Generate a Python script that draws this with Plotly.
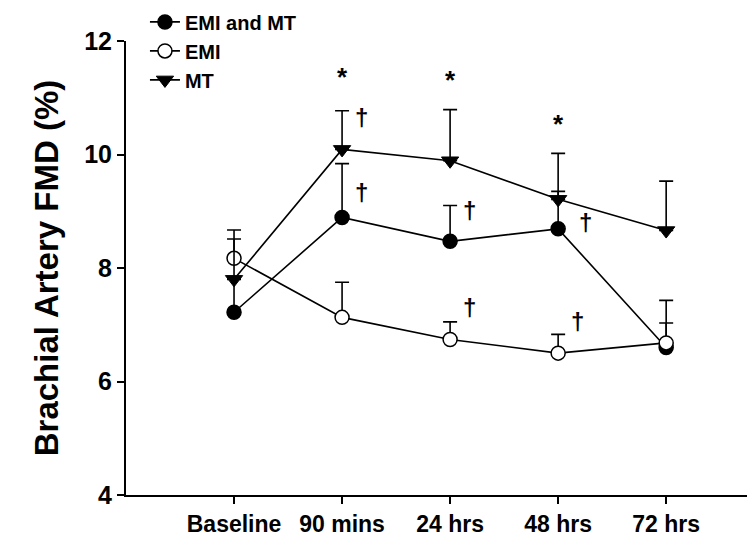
import plotly.graph_objects as go

# ---- data ----
time_labels = ["Baseline", "90 mins", "24 hrs", "48 hrs", "72 hrs"]
time_pos = [0, 1, 2, 3, 4]

emi_mt_mean = [7.22, 8.89, 8.47, 8.69, 6.60]
emi_mt_err = [0.60, 0.95, 0.63, 0.66, 0.43]

emi_mean = [8.17, 7.13, 6.74, 6.50, 6.68]
emi_err = [0.34, 0.62, 0.31, 0.33, 0.75]

mt_mean = [7.80, 10.09, 9.89, 9.21, 8.66]
mt_err = [0.87, 0.68, 0.90, 0.81, 0.87]

star_x = [1, 2, 3]
star_y = [11.47, 11.41, 10.65]

dagger_x = [1.18, 1.18, 2.18, 3.25, 2.18, 3.18]
dagger_y = [10.65, 9.33, 9.02, 8.80, 7.30, 7.06]

y_ticks = [4, 6, 8, 10, 12]

FONT = "Liberation Sans, Arial, sans-serif"

def err(vals):
    return dict(type="data", symmetric=False, array=vals,
                arrayminus=[0] * len(vals), color="black",
                thickness=1.6, width=7)

fig = go.Figure()
fig.add_trace(go.Scatter(
    x=time_pos, y=emi_mt_mean, name="EMI and MT", mode="lines+markers",
    line=dict(color="black", width=1.6),
    marker=dict(symbol="circle", size=14, color="black",
                line=dict(color="black", width=1.5)),
    error_y=err(emi_mt_err)))
fig.add_trace(go.Scatter(
    x=time_pos, y=emi_mean, name="EMI", mode="lines+markers",
    line=dict(color="black", width=1.6),
    marker=dict(symbol="circle", size=14, color="white",
                line=dict(color="black", width=1.5)),
    error_y=err(emi_err)))
fig.add_trace(go.Scatter(
    x=time_pos, y=mt_mean, name="MT", mode="lines+markers",
    line=dict(color="black", width=1.6),
    marker=dict(symbol="triangle-down", size=15, color="black",
                line=dict(color="black", width=1)),
    error_y=err(mt_err)))

for xs, ys in zip(star_x, star_y):
    fig.add_annotation(x=xs, y=ys, text="*", showarrow=False,
                       font=dict(family=FONT, size=26, color="black", weight="bold"),
                       xanchor="center", yanchor="middle", yshift=-6)
for xd, yd in zip(dagger_x, dagger_y):
    fig.add_annotation(x=xd, y=yd, text="†", showarrow=False,
                       font=dict(family=FONT, size=24, color="black", weight="bold"),
                       xanchor="center", yanchor="middle")

fig.update_layout(
    width=755, height=536,
    margin=dict(l=118, r=5, t=33, b=49, autoexpand=False),
    paper_bgcolor="white", plot_bgcolor="white",
    font=dict(family=FONT, color="black"),
    showlegend=True,
    legend=dict(x=0.03, y=1.085, xanchor="left", yanchor="top",
                font=dict(family=FONT, size=20, color="black", weight="bold"),
                bgcolor="rgba(0,0,0,0)", tracegroupgap=0),
    xaxis=dict(range=[-1, 4.85], tickvals=time_pos, ticktext=time_labels,
               showline=True, linecolor="black", linewidth=2,
               ticks="outside", ticklen=7, tickwidth=1.5, tickcolor="black",
               showgrid=False, zeroline=False, automargin=False,
               tickfont=dict(family=FONT, size=23, color="black", weight="bold")),
    yaxis=dict(range=[4, 12], tickvals=y_ticks,
               showline=True, linecolor="black", linewidth=2,
               ticks="outside", ticklen=7, tickwidth=1.5, tickcolor="black",
               showgrid=False, zeroline=False, automargin=False,
               tickfont=dict(family=FONT, size=25, color="black", weight="bold"),
               title=dict(text="Brachial Artery FMD (%)", standoff=16,
                          font=dict(family=FONT, size=33, color="black", weight="bold"))),
)

fig.write_html("out.html")
